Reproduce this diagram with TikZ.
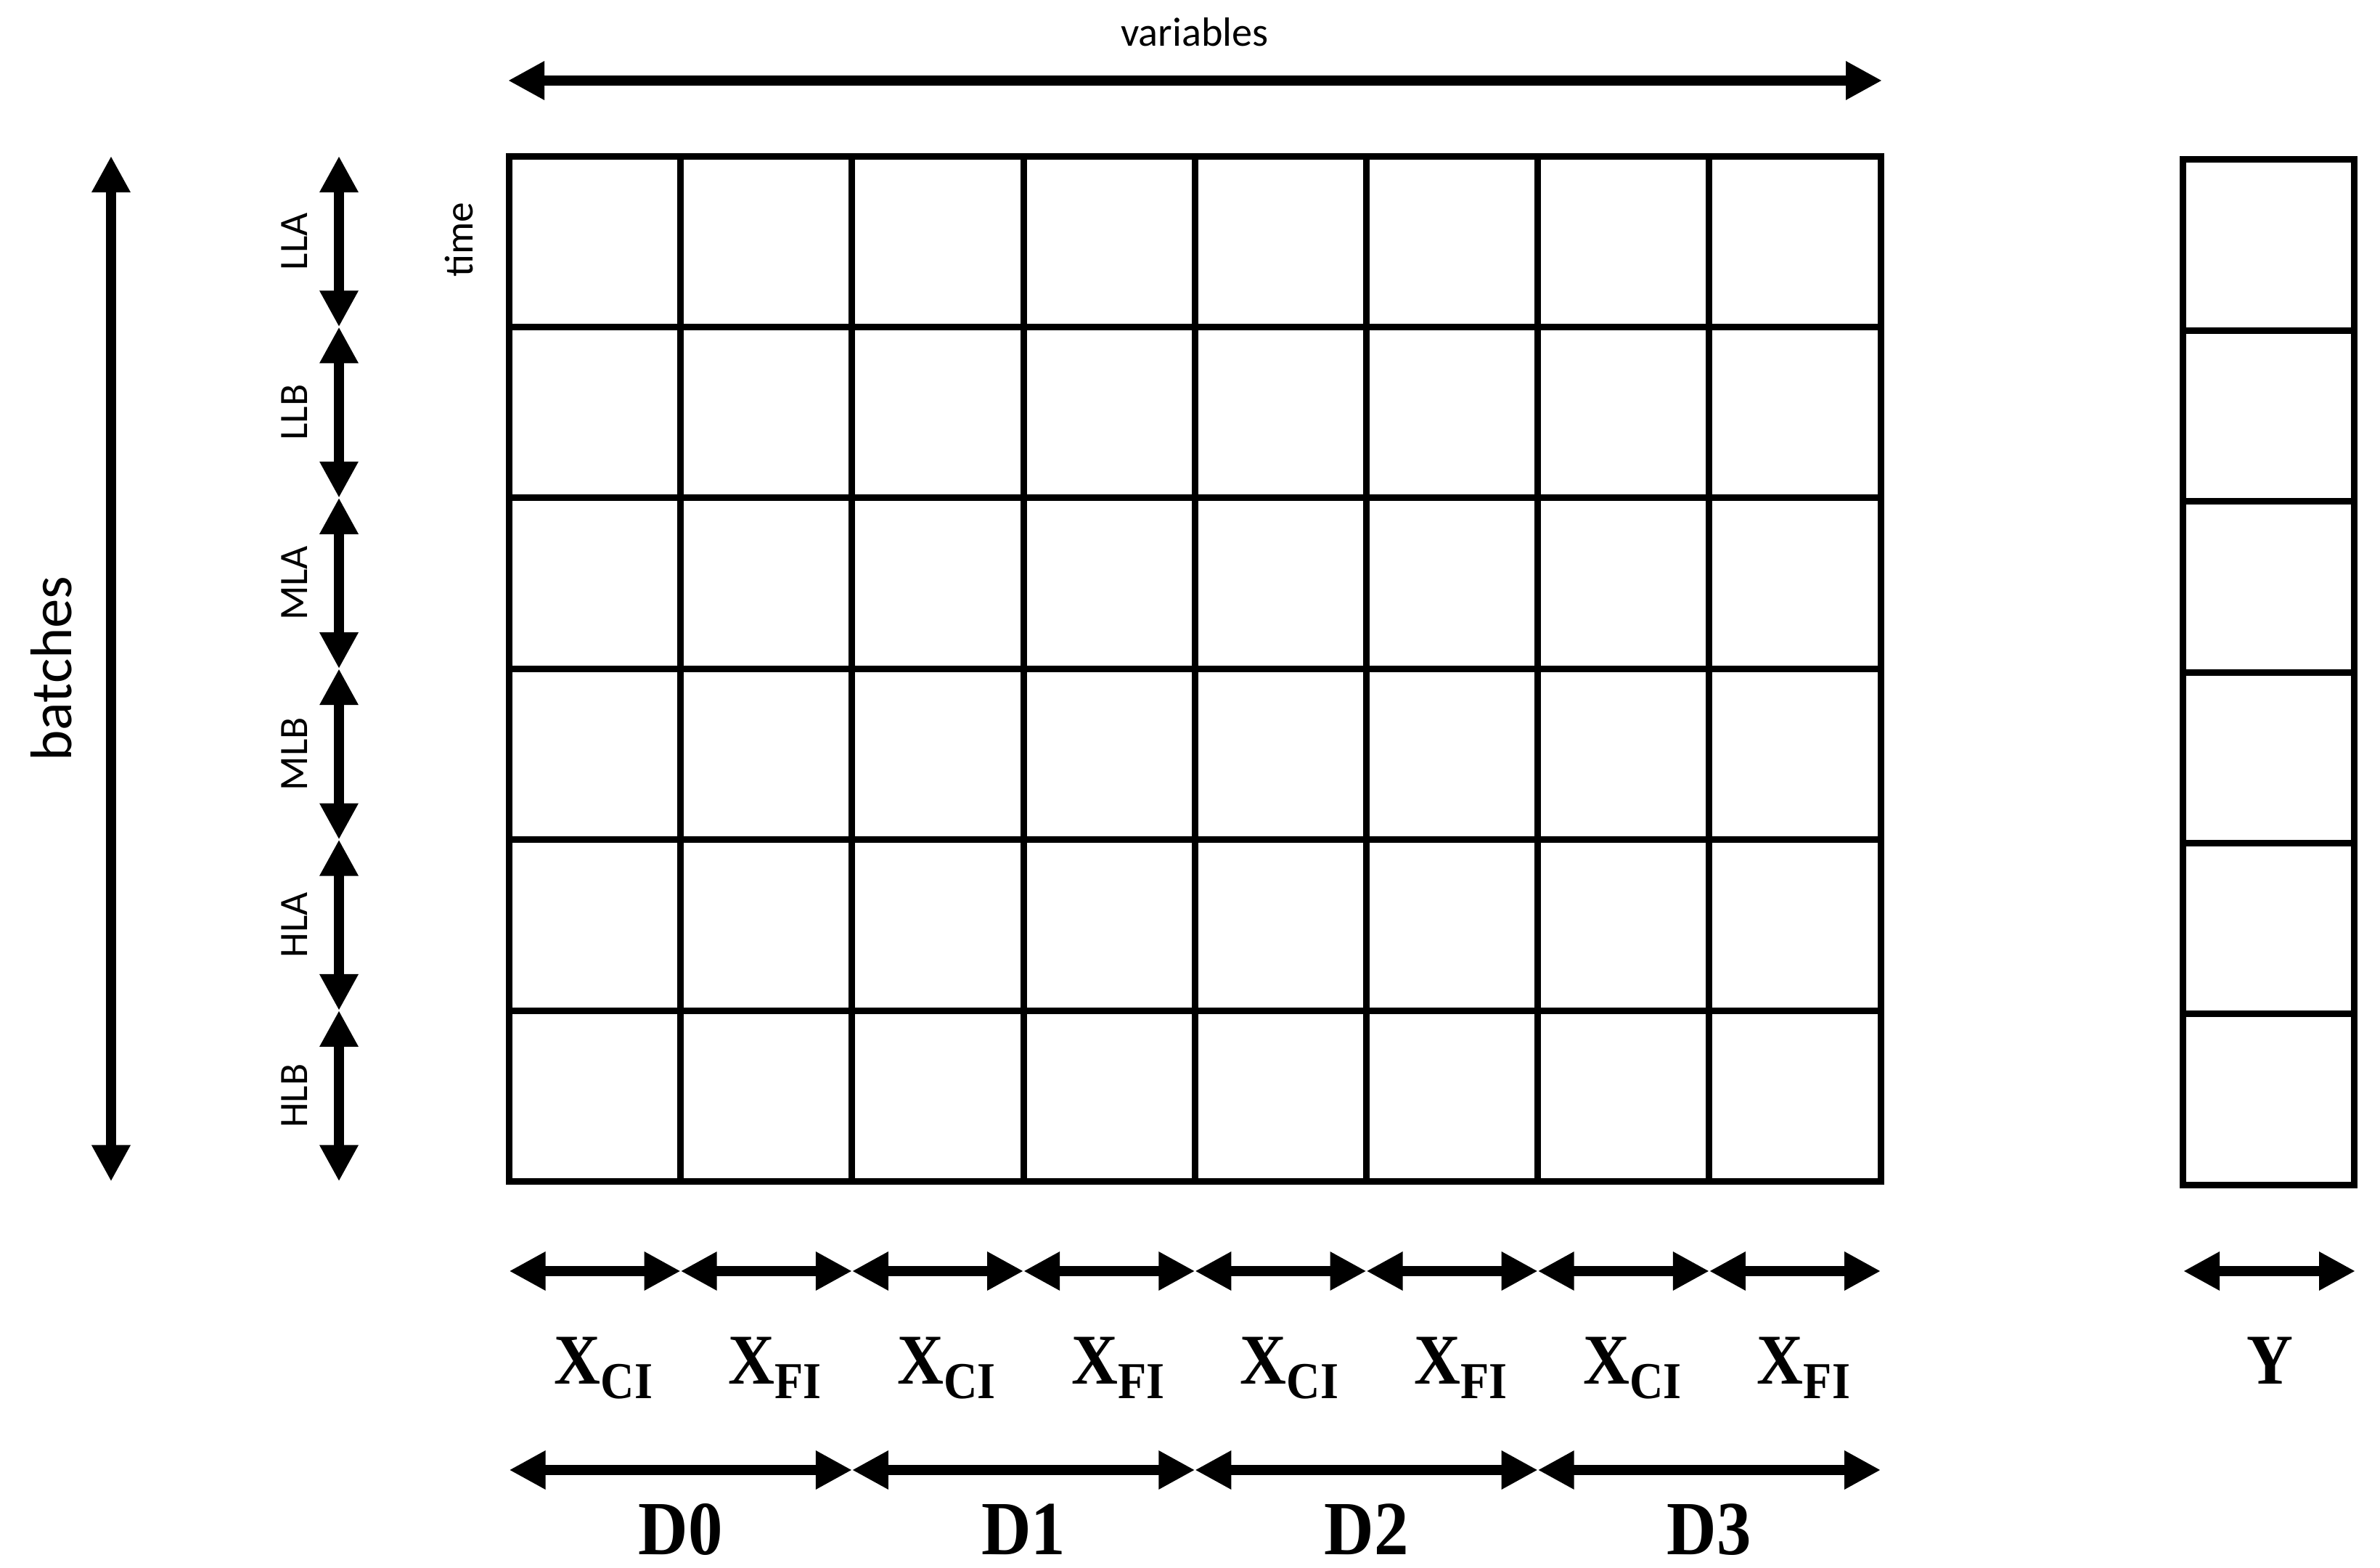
\documentclass[tikz,border=0pt]{standalone}
\usepackage{fontspec}
\setmainfont{Carlito}
\newfontfamily\labelfont[FakeStretch=0.9]{Liberation Serif}
\usetikzlibrary{arrows.meta}
\newcommand\xsub[1]{X\raisebox{-2mm}{\fontsize{20.3}{22}\selectfont #1}}

\begin{document}
\begin{tikzpicture}[>={Triangle[length=5mm,width=5mm]},
  span/.style={<->,line width=1.37mm},
  cell/.style={line width=0.9mm},
  note/.style={font=\fontsize{15.8}{18}\selectfont},
  tag/.style={font=\labelfont\bfseries\fontsize{28}{32}\selectfont,anchor=base,inner sep=0pt},
  dtag/.style={tag,font=\labelfont\bfseries\fontsize{30}{34}\selectfont}]
  \useasboundingbox (0,0) rectangle (32.79,21.60);

  % data grid
  \foreach \i in {1,...,7}
    \draw[cell] (7.015+2.362*\i,5.325) -- ++(0,14.124);
  \foreach \j in {1,...,5}
    \draw[cell] (7.015,5.325+2.354*\j) -- ++(18.896,0);
  \draw[cell] (7.015,5.325) rectangle (25.911,19.449);

  % target column
  \foreach \j in {1,...,5}
    \draw[cell] (30.07,5.276+2.354*\j) -- ++(2.36,0);
  \draw[cell] (30.07,5.276) rectangle (32.43,19.40);

  % variables
  \coordinate (vl) at (7.0,20.49);
  \coordinate (vr) at (25.93,20.49);
  \draw[span] (vl) -- (vr);
  \node[anchor=base,font=\fontsize{16}{18}\selectfont] (variables) at (16.46,20.96) {variables};
  \node[note,rotate=90] (time) at (6.32,18.30) {time};

  % batches
  \coordinate (btop) at (1.53,19.45);
  \coordinate (bbot) at (1.53,5.325);
  \draw[span] (btop) -- (bbot);
  \node[rotate=90,font=\fontsize{23}{26}\selectfont] (batches) at (0.71,12.39) {batches};

  % batch groups
  \foreach \k in {0,...,6}
    \coordinate (r\k) at (4.67,19.45-2.354*\k);
  \foreach \k [remember=\k as \p (initially 0)] in {1,...,6}
    \draw[span] (r\p) -- (r\k);
  \foreach \lab [count=\k from 0] in {LLA,LLB,MLA,MLB,HLA,HLB}
    \node[note,rotate=90] (\lab) at (4.06,18.273-2.354*\k) {\lab};

  % variable groups
  \foreach \i in {0,...,8} {
    \coordinate (x\i) at (7.015+2.362*\i,4.09);
    \coordinate (d\i) at (7.015+2.362*\i,1.35);
  }
  \foreach \i [remember=\i as \p (initially 0)] in {1,...,8}
    \draw[span] (x\p) -- (x\i);
  \foreach \a/\b in {0/2,2/4,4/6,6/8}
    \draw[span] (d\a) -- (d\b);
  \foreach \s [count=\i from 0] in {CI,FI,CI,FI,CI,FI,CI,FI}
    \node[tag] (xl\i) at (8.316+2.362*\i,2.53) {\xsub{\s}};
  \foreach \i in {0,...,3}
    \node[dtag] (dl\i) at (9.377+4.724*\i,0.18) {D\i};

  % target
  \coordinate (yl) at (30.08,4.09);
  \coordinate (yr) at (32.45,4.09);
  \draw[span] (yl) -- (yr);
  \node[tag] (ylab) at (31.27,2.53) {Y};
\end{tikzpicture}
\end{document}
